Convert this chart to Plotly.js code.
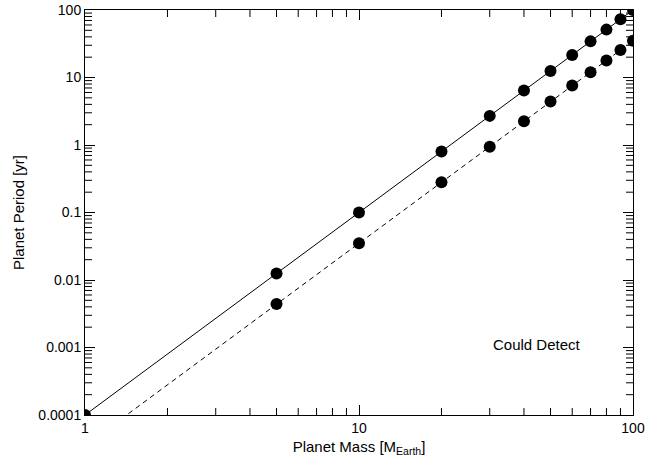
<!DOCTYPE html>
<html>
<head>
<meta charset="utf-8">
<script src="https://cdn.plot.ly/plotly-3.0.1.min.js"></script>
<style>html,body{margin:0;padding:0;background:#fff;}#chart{width:647px;height:462px;}</style>
</head>
<body>
<div id="chart"></div>
<script>
var planetMass = [1, 5, 10, 20, 30, 40, 50, 60, 70, 80, 90, 100];
var periodSolid = [0.0001, 0.0125, 0.1, 0.8, 2.7, 6.4, 12.5, 21.6, 34.3, 51.2, 72.9, 100];
var periodDashed = [0.000035, 0.0044, 0.035, 0.28, 0.945, 2.24, 4.4, 7.6, 12, 17.9, 25.5, 35];
var xTickVals = [1, 10, 100];
var xTickText = ["1", "10", "100"];
var yTickVals = [0.0001, 0.001, 0.01, 0.1, 1, 10, 100];
var yTickText = ["0.0001", "0.001", "0.01", "0.1", "1", "10", "100"];
var annotationText = "Could Detect";
var annotationPos = [44.5, 0.00112];

function minorTicks(decades) {
  var out = [];
  for (var d = 0; d < decades.length - 1; d++) {
    for (var m = 2; m <= 9; m++) out.push(decades[d] * m);
  }
  return out;
}

var fontFam = "Liberation Sans, Arial, Helvetica, sans-serif";

// minor tick marks on all four sides, placed at the axis range ends (half clipped by the plot area)
var xMinor = minorTicks(xTickVals);
var yMinor = minorTicks(yTickVals);
var xLo = xTickVals[0], xHi = xTickVals[xTickVals.length - 1];
var yLo = yTickVals[0], yHi = yTickVals[yTickVals.length - 1];
var xmX = xMinor.concat(xMinor);
var xmY = xMinor.map(function () { return yLo; }).concat(xMinor.map(function () { return yHi; }));
var ymX = yMinor.map(function () { return xLo; }).concat(yMinor.map(function () { return xHi; }));
var ymY = yMinor.concat(yMinor);

var traces = [
  {x: planetMass, y: periodSolid, mode: "lines+markers", type: "scatter",
   line: {color: "#000", width: 1}, marker: {color: "#000", size: 12}, cliponaxis: true, hoverinfo: "skip"},
  {x: planetMass, y: periodDashed, mode: "lines+markers", type: "scatter",
   line: {color: "#000", width: 1, dash: "5px,4px"}, marker: {color: "#000", size: 12}, cliponaxis: true, hoverinfo: "skip"},
  {x: xmX, y: xmY, mode: "markers", type: "scatter", cliponaxis: true, hoverinfo: "skip",
   marker: {symbol: "line-ns-open", size: 10, color: "#000", line: {color: "#000", width: 1}}},
  {x: ymX, y: ymY, mode: "markers", type: "scatter", cliponaxis: true, hoverinfo: "skip",
   marker: {symbol: "line-ew-open", size: 10, color: "#000", line: {color: "#000", width: 1}}}
];

function axisCommon() {
  return {
    type: "log", showgrid: false, zeroline: false, showline: true, linecolor: "#000", linewidth: 1,
    mirror: "allticks", ticks: "inside", ticklen: 10, tickwidth: 1, tickcolor: "#000",
    tickfont: {family: fontFam, size: 14, color: "#000"}
  };
}

var layout = {
  width: 647, height: 462,
  margin: {l: 85, r: 14, t: 10, b: 47},
  paper_bgcolor: "#fff", plot_bgcolor: "#fff",
  showlegend: false,
  font: {family: fontFam, size: 14, color: "#000"},
  xaxis: Object.assign(axisCommon(), {
    range: [0, 2], tickmode: "array", tickvals: xTickVals, ticktext: xTickText,
    title: {text: "Planet Mass [M<sub>Earth</sub>]", font: {family: fontFam, size: 15, color: "#000"}, standoff: 6}
  }),
  yaxis: Object.assign(axisCommon(), {
    range: [-4, 2], tickmode: "array", tickvals: yTickVals, ticktext: yTickText,
    title: {text: "Planet Period [yr]", font: {family: fontFam, size: 15, color: "#000"}, standoff: 10}
  }),
  annotations: [{
    x: Math.log10(annotationPos[0]), y: Math.log10(annotationPos[1]), xref: "x", yref: "y",
    text: annotationText, showarrow: false, font: {family: fontFam, size: 15, color: "#000"}
  }]
};

Plotly.newPlot("chart", traces, layout, {staticPlot: true, displayModeBar: false});
</script>
</body>
</html>
